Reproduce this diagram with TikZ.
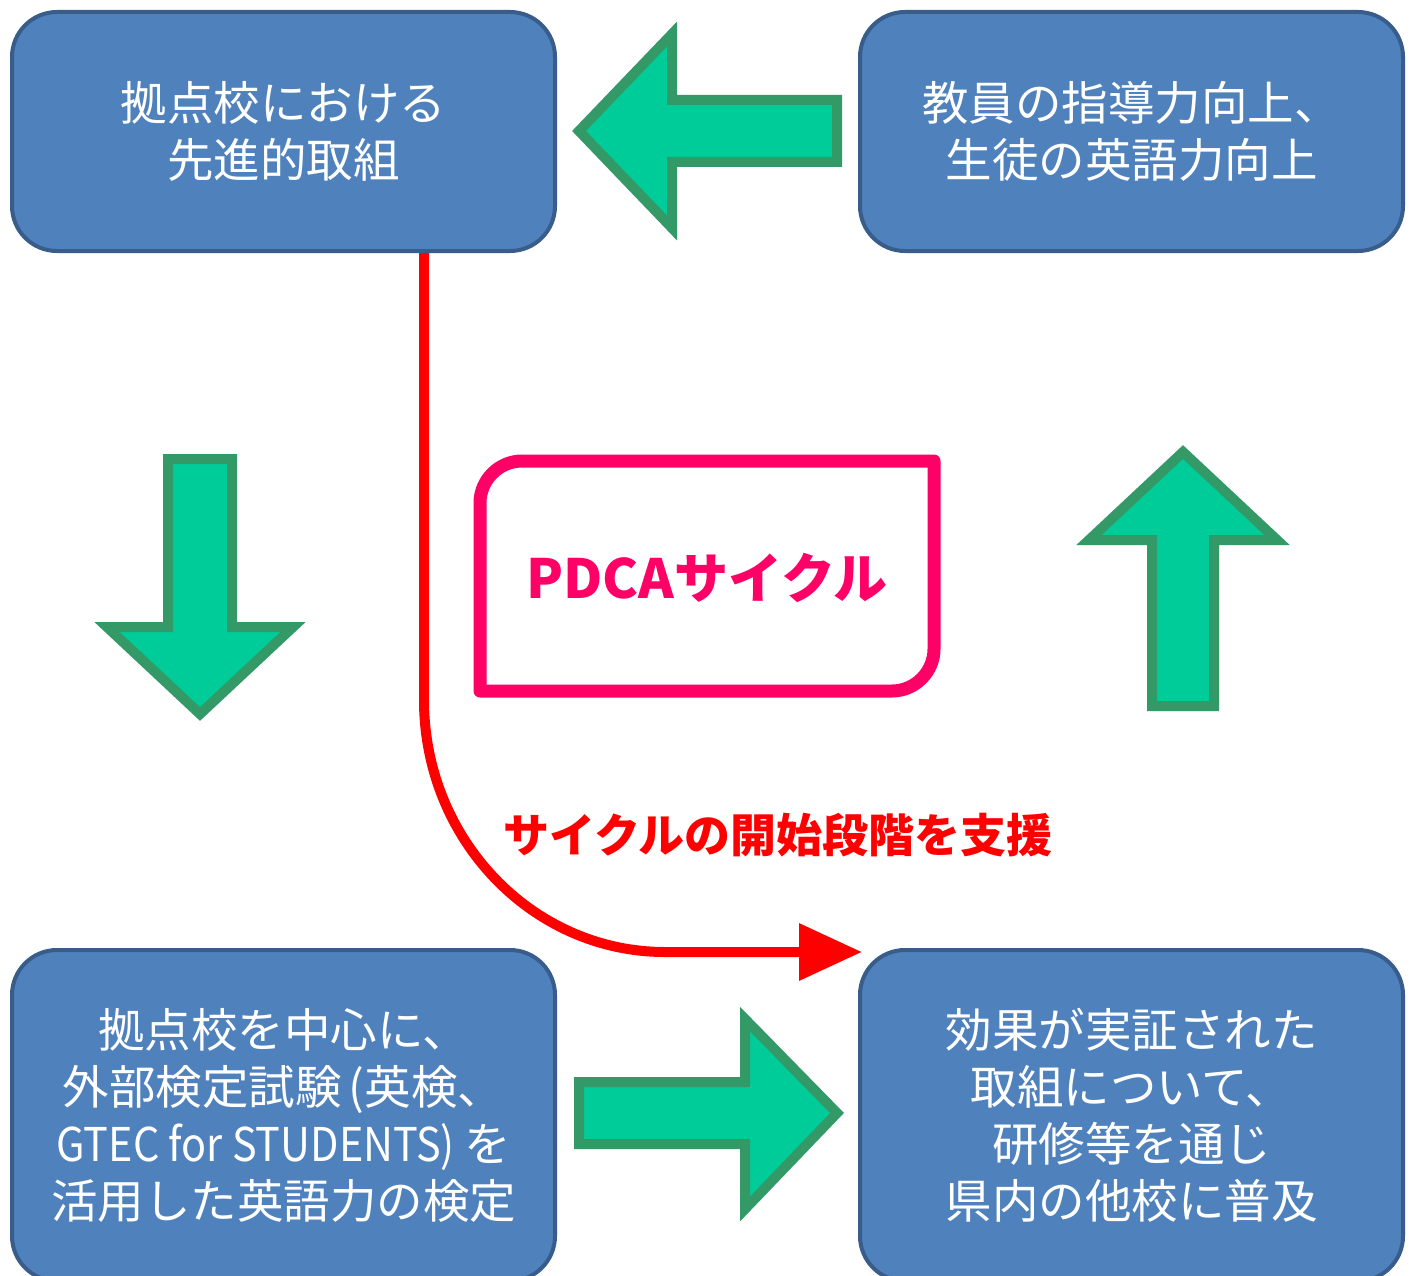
\documentclass[tikz,border=0pt]{standalone}
\usepackage{fontspec}
\setmainfont{Noto Sans CJK JP}
\usetikzlibrary{arrows.meta}
\definecolor{boxfill}{HTML}{4F81BD}
\definecolor{boxline}{HTML}{385D8A}
\definecolor{grfill}{HTML}{00CC99}
\definecolor{grline}{HTML}{339966}
\definecolor{pdcapink}{HTML}{FF0066}
\definecolor{cyclered}{HTML}{FF0000}
\begin{document}
\begin{tikzpicture}[x=1pt,y=-1pt,
  bluebox/.style={draw=boxline, fill=boxfill, line width=4pt, rounded corners=45pt,
    minimum width=543pt, minimum height=239pt, text=white, align=center,
    font=\fontsize{46.5}{57}\selectfont, inner sep=0pt},
  tallbox/.style={bluebox, minimum height=331pt},
  bigarrow/.style={draw=grline, fill=grfill, line width=10pt, line join=miter, miter limit=10},
  redline/.style={draw=cyclered, line width=10pt, -{Triangle[length=63pt,width=55pt]}}]
\useasboundingbox (0,0) rectangle (1413,1276);
\fill[white] (0,0) rectangle (1413,1276);
\clip (0,0) rectangle (1413,1276);

% boxes
\node[bluebox] (tl) at (283.5,131.5) {拠点校における\\先進的取組};
\node[bluebox] (tr) at (1131.5,131.5) {教員の指導力向上、\\生徒の英語力向上};
\node[tallbox] (bl) at (283.5,1115.5) {拠点校を中心に、\\外部検定試験\hspace{0.15em}(英検、\\\scalebox{0.89}[1]{GTEC for STUDENTS)}\hspace{0.2em}を\\活用した英語力の検定};
\node[tallbox] (br) at (1131.5,1115.5) {効果が実証された\\取組について、\\研修等を通じ\\県内の他校に普及};

% green block arrows
\draw[bigarrow] (579,131) -- (672,34) -- (672,100) -- (837,100) -- (837,162) -- (672,162) -- (672,228) -- cycle;
\draw[bigarrow] (200,714) -- (107,627) -- (168,627) -- (168,459) -- (232,459) -- (232,627) -- (293,627) -- cycle;
\draw[bigarrow] (1183,452) -- (1277,540) -- (1214,540) -- (1214,706) -- (1152,706) -- (1152,540) -- (1089,540) -- cycle;
\draw[bigarrow] (837,1113) -- (745,1019) -- (745,1082) -- (579,1082) -- (579,1144) -- (745,1144) -- (745,1209) -- cycle;

% PDCA box
\draw[draw=pdcapink, line width=13pt, line join=round]
  (480,691) -- (480,503) .. controls (480,480) and (499,461) .. (522,461)
  -- (934,461) -- (934,649) .. controls (934,672) and (915,691) .. (892,691) -- cycle;
\node[text=pdcapink, font=\bfseries\fontsize{54}{54}\selectfont, inner sep=0pt] (pdca) at (707,578) {PDCAサイクル};

% red cycle connector
\coordinate (cs) at (424,253);
\coordinate (ce) at (862,952);
\draw[redline] (cs) -- (424,700) .. controls (424,839) and (532,952) .. (665,952) -- (ce);
\node[text=cyclered, font=\bfseries\fontsize{46}{46}\selectfont, inner sep=0pt] (lbl) at (778,835) {サイクルの開始段階を支援};
\end{tikzpicture}
\end{document}
